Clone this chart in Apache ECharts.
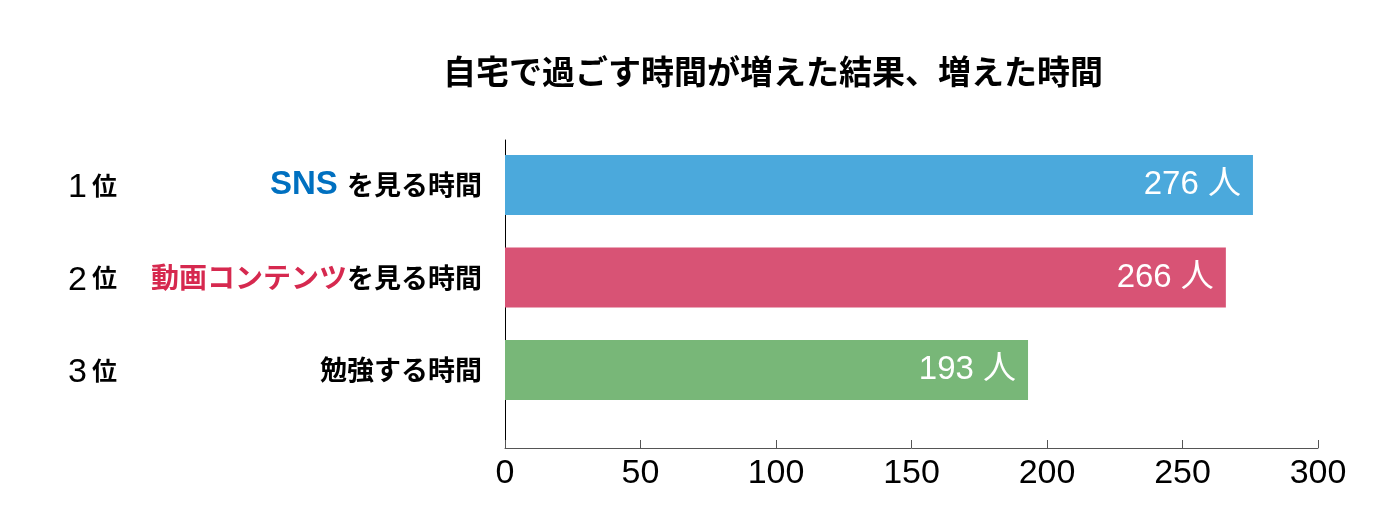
<!DOCTYPE html>
<html>
<head>
<meta charset="utf-8">
<script src="https://cdn.jsdelivr.net/npm/echarts@6/dist/echarts.min.js"></script>
<style>
  html, body { margin: 0; padding: 0; background: #fff; }
  #chart { width: 1378px; height: 524px; }
</style>
</head>
<body>
<div id="chart"></div>
<script>
// データ
var titleText = '自宅で過ごす時間が増えた結果、増えた時間';
var ranks = ['1', '2', '3'];
var catHighlight = ['SNS ', '動画コンテンツ', ''];
var catRest = ['を見る時間', 'を見る時間', '勉強する時間'];
var categories = ['SNSを見る時間', '動画コンテンツを見る時間', '勉強する時間'];
var values = [276, 266, 193];
var xTicks = [0, 50, 100, 150, 200, 250, 300];

var barColors = ['#4BA9DC', '#D85375', '#78B778'];
var hlColors = ['#0070C0', '#D6294F', '#000'];
var FONT = '"Liberation Sans", Arial, "Noto Sans CJK JP", sans-serif';

var myChart = echarts.init(document.getElementById('chart'));

var option = {
    backgroundColor: '#fff',
    animation: false,
    textStyle: { fontFamily: FONT },
    title: {
        text: titleText,
        left: 438,
        top: 50,
        textStyle: { fontSize: 33, fontWeight: 'bold', color: '#000', fontFamily: '"Noto Sans CJK JP", sans-serif' }
    },
    grid: [
        // 棒用
        { left: 505, right: 60, top: 138.75, height: 277.5 },
        // 軸用
        { left: 505, right: 60, top: 140, bottom: 76 }
    ],
    xAxis: [
        { gridIndex: 0, type: 'value', min: xTicks[0], max: xTicks[xTicks.length - 1], show: false },
        {
            gridIndex: 1, type: 'value', min: xTicks[0], max: xTicks[xTicks.length - 1], interval: 50,
            axisLine: { show: true, lineStyle: { color: '#555', width: 1 } },
            axisTick: { show: true, inside: true, length: 8, lineStyle: { color: '#555' } },
            axisLabel: { fontSize: 34, color: '#000', margin: 9, fontFamily: FONT },
            splitLine: { show: false }
        }
    ],
    yAxis: [
        {
            gridIndex: 0, type: 'category', data: categories, inverse: true,
            axisLine: { show: false }, axisTick: { show: false },
            axisLabel: {
                margin: 23,
                formatter: function (v, i) {
                    var s = '';
                    if (catHighlight[i]) s += '{h' + i + '|' + catHighlight[i] + '}';
                    return s + '{t|' + catRest[i] + '}';
                },
                rich: {
                    h0: { fontSize: 33, fontWeight: 'bold', color: hlColors[0], fontFamily: '"Liberation Sans", Arial, sans-serif' },
                    h1: { fontSize: 28, fontWeight: 'bold', color: hlColors[1], fontFamily: '"Noto Sans CJK JP", sans-serif' },
                    h2: { fontSize: 27, fontWeight: 'bold', color: hlColors[2] },
                    t: { fontSize: 27, fontWeight: 'bold', color: '#000', fontFamily: '"Noto Sans CJK JP", sans-serif' }
                }
            }
        },
        {
            // 順位
            gridIndex: 0, type: 'category', data: ranks, inverse: true, position: 'left', offset: 437,
            axisLine: { show: false }, axisTick: { show: false },
            axisLabel: {
                margin: 0, align: 'left',
                formatter: function (v) { return '{n|' + v + '}{w|位}'; },
                rich: {
                    n: { fontSize: 34, color: '#000', fontFamily: '"Liberation Sans", Arial, sans-serif', padding: [6, 5, 0, 0] },
                    w: { fontSize: 25, fontWeight: 'bold', color: '#000', fontFamily: '"Noto Sans CJK JP", sans-serif' }
                }
            }
        },
        {
            gridIndex: 1, type: 'value', min: 0, max: 1,
            axisLine: { show: true, lineStyle: { color: '#000', width: 1 } },
            axisTick: { show: false }, axisLabel: { show: false }, splitLine: { show: false }
        }
    ],
    series: [{
        type: 'bar',
        xAxisIndex: 0,
        yAxisIndex: 0,
        barWidth: 60,
        data: values.map(function (v, i) {
            return { value: v, itemStyle: { color: barColors[i] } };
        }),
        label: {
            show: true,
            position: 'insideRight',
            distance: 12,
            color: '#fff',
            fontSize: 33,
            fontFamily: '"Liberation Sans", Arial, "Noto Sans CJK JP", sans-serif',
            formatter: '{c} 人'
        }
    }]
};

myChart.setOption(option);
</script>
</body>
</html>
